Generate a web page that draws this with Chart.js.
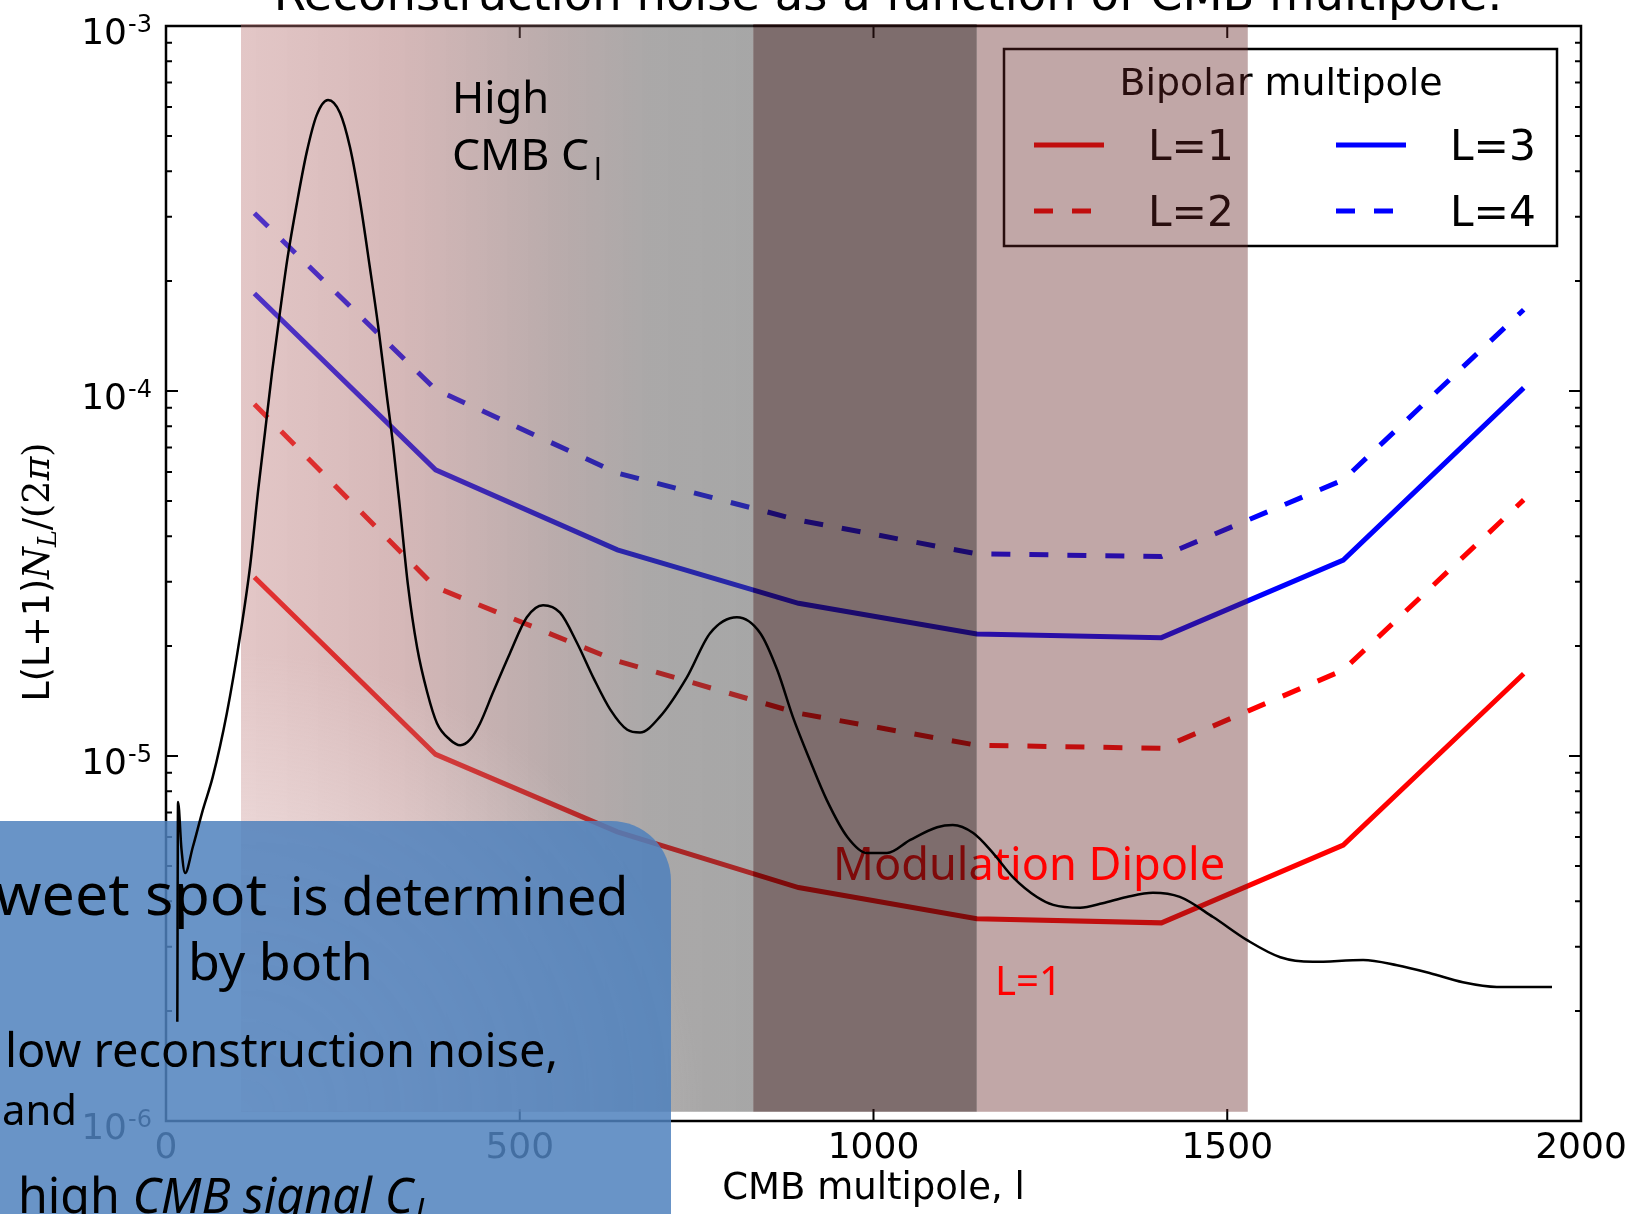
<!DOCTYPE html>
<html>
<head>
<meta charset="utf-8">
<script src="https://cdn.jsdelivr.net/npm/chart.js@4.4.1/dist/chart.umd.min.js"></script>
<style>
  html, body { margin: 0; padding: 0; background: #fff; overflow: hidden; }
  #wrap { position: relative; width: 1637px; height: 1214px; }
</style>
</head>
<body>
<div id="wrap"><canvas id="noiseChart" width="1637" height="1214"></canvas></div>
<script>
// multipoles where the reconstruction noise was evaluated
const multipoles = [125, 381, 638, 894, 1146, 1407, 1664, 1919]
const noiseL1 = [3.09e-5, 1.01e-5, 6.2e-6, 4.36e-6, 3.58e-6, 3.49e-6, 5.7e-6, 1.68e-5]
const noiseL2 = [9.2e-5, 2.9e-5, 1.82e-5, 1.31e-5, 1.07e-5, 1.05e-5, 1.72e-5, 5.03e-5]
const noiseL3 = [1.85e-4, 6.08e-5, 3.67e-5, 2.62e-5, 2.16e-5, 2.11e-5, 3.44e-5, 1.02e-4]
const noiseL4 = [3.07e-4, 1.01e-4, 5.96e-5, 4.43e-5, 3.58e-5, 3.52e-5, 5.71e-5, 1.67e-4]

// CMB power spectrum (black curve)
const cmbL = [16, 17, 22, 27, 38, 52, 66, 86, 105, 119, 130, 140, 150, 161, 172, 185, 199, 213, 229,
  246, 260, 274, 288, 300, 312, 321, 331, 342, 355, 369, 383, 401, 416, 430, 444, 462, 486,
  510, 533, 557, 581, 604, 628, 652, 670, 698, 736, 769, 807, 840, 864, 886, 910, 934, 963,
  991, 1019, 1052, 1090, 1112, 1141, 1169, 1197, 1231, 1254, 1292, 1324, 1358, 1395, 1433,
  1480, 1528, 1575, 1621, 1692, 1740, 1787, 1833, 1881, 1959]
const cmbCl = [1.87e-6, 7.48e-6, 5.52e-6, 4.78e-6, 5.64e-6, 7.11e-6, 8.75e-6, 1.31e-5, 2.15e-5,
  3.33e-5, 5.29e-5, 7.73e-5, 1.13e-4, 1.64e-4, 2.33e-4, 3.27e-4, 4.52e-4, 5.70e-4, 6.27e-4,
  5.78e-4, 4.66e-4, 3.33e-4, 2.19e-4, 1.50e-4, 9.75e-5, 7.11e-5, 4.72e-5, 2.94e-5, 1.98e-5,
  1.50e-5, 1.23e-5, 1.11e-5, 1.07e-5, 1.11e-5, 1.23e-5, 1.49e-5, 1.91e-5,
  2.40e-5, 2.59e-5, 2.47e-5, 2.04e-5, 1.64e-5, 1.34e-5, 1.18e-5, 1.16e-5, 1.28e-5, 1.64e-5,
  2.17e-5, 2.40e-5, 2.17e-5, 1.72e-5, 1.28e-5, 9.75e-6, 7.57e-6, 6.00e-6,
  5.42e-6, 5.42e-6, 5.89e-6, 6.38e-6, 6.47e-6, 6.15e-6, 5.42e-6, 4.66e-6, 4.11e-6, 3.91e-6,
  3.84e-6, 3.95e-6, 4.11e-6, 4.22e-6, 4.11e-6,
  3.62e-6, 3.13e-6, 2.81e-6, 2.73e-6, 2.76e-6, 2.67e-6, 2.54e-6, 2.40e-6, 2.33e-6, 2.33e-6]

const seriesNames = ['L=1', 'L=2', 'L=3', 'L=4']
const xTicks = [0, 500, 1000, 1500, 2000]
const yTicks = [1e-6, 1e-5, 1e-4, 1e-3]
const yTickBase = '10'
const yTickExps = ['-6', '-5', '-4', '-3']
// shaded multipole ranges: gradient | dark | light
const bandEdges = [106, 830, 1146, 1529]
const bandFloor = 1.06e-6

const sans = "'DejaVu Sans', sans-serif"
const serif = "'DejaVu Serif', serif"
const hand = "'Noto Sans', sans-serif"

function fitFont(ctx, text, style, family, width) {
  ctx.font = style + ' 100px ' + family
  const size = 100 * width / ctx.measureText(text).width
  return style + ' ' + size.toFixed(1) + 'px ' + family
}

function putText(ctx, text, x, y, width, style, family, color, align) {
  ctx.font = fitFont(ctx, text, style, family, width)
  ctx.fillStyle = color
  ctx.textAlign = align || 'left'
  ctx.textBaseline = 'alphabetic'
  ctx.fillText(text, x, y)
}

function line(ctx, x0, y0, x1, y1) {
  ctx.moveTo(x0, y0); ctx.lineTo(x1, y1)
}

function drawFrame(chart) {
  const { ctx, chartArea: a, scales: { x, y } } = chart
  ctx.save()
  ctx.strokeStyle = '#000'
  ctx.lineWidth = 2
  ctx.beginPath()
  xTicks.forEach(v => {
    const px = x.getPixelForValue(v)
    line(ctx, px, a.bottom, px, a.bottom - 12)
    line(ctx, px, a.top, px, a.top + 12)
  })
  for (let d = -6; d <= -3; d++) {
    for (let k = 1; k <= 9; k++) {
      if (d === -3 && k > 1) break
      const py = y.getPixelForValue(k * Math.pow(10, d))
      const len = k === 1 ? 12 : 6
      line(ctx, a.left, py, a.left + len, py)
      line(ctx, a.right, py, a.right - len, py)
    }
  }
  ctx.stroke()
  ctx.lineWidth = 2.5
  ctx.strokeRect(a.left, a.top, a.right - a.left, a.bottom - a.top)

  // y tick labels as 10 with a raised exponent
  ctx.fillStyle = '#000'
  ctx.textBaseline = 'alphabetic'
  y.ticks.forEach((t, i) => {
    const py = y.getPixelForValue(t.value)
    ctx.font = '36px ' + sans
    ctx.textAlign = 'right'
    ctx.fillText(yTickBase, a.left - 39, py + 18)
    ctx.font = '24px ' + sans
    ctx.textAlign = 'left'
    ctx.fillText(yTickExps[i], a.left - 38, py + 6)
  })

  // page title, cut at the top edge like the slide
  putText(ctx, 'Reconstruction noise as a function of CMB multipole.', 888, 10, 1230, 'normal', sans, '#000', 'center')

  // y axis title with math parts
  const runs = [
    { t: 'L(L+1)', f: sans, st: 'normal', s: 1, dy: 0 },
    { t: 'N', f: serif, st: 'italic', s: 1, dy: 0 },
    { t: 'L', f: serif, st: 'italic', s: 0.7, dy: 7 },
    { t: '/(2', f: serif, st: 'normal', s: 1, dy: 0 },
    { t: 'π', f: serif, st: 'italic', s: 1, dy: 0 },
    { t: ')', f: serif, st: 'normal', s: 1, dy: 0 }
  ]
  const base = 34
  let total = 0
  runs.forEach(r => { ctx.font = r.st + ' ' + (base * r.s) + 'px ' + r.f; r.w = ctx.measureText(r.t).width; total += r.w })
  const k = 259 / total
  ctx.translate(37, 572)
  ctx.rotate(-Math.PI / 2)
  ctx.textAlign = 'left'
  let cx = -total * k / 2
  runs.forEach(r => {
    ctx.font = r.st + ' ' + (base * r.s * k).toFixed(1) + 'px ' + r.f
    ctx.fillText(r.t, cx, 12 + r.dy)
    cx += r.w * k
  })
  ctx.restore()
}

function drawLegend(chart) {
  const { ctx, chartArea: a } = chart
  const left = a.right - 577, top = a.top + 23, w = 553, h = 197
  ctx.save()
  ctx.fillStyle = '#fff'
  ctx.fillRect(left, top, w, h)
  ctx.lineWidth = 2.5
  ctx.strokeStyle = '#000'
  ctx.strokeRect(left, top, w, h)
  putText(ctx, 'Bipolar multipole', left + 277, top + 46, 323, 'normal', sans, '#000', 'center')
  const spots = [[30, 96], [30, 162], [332, 96], [332, 162]]
  chart.data.datasets.slice(1).forEach((ds, i) => {
    const [ox, oy] = spots[i]
    ctx.beginPath()
    ctx.strokeStyle = ds.borderColor
    ctx.lineWidth = ds.borderWidth
    ctx.setLineDash(ds.borderDash || [])
    line(ctx, left + ox, top + oy, left + ox + 70, top + oy)
    ctx.stroke()
    ctx.setLineDash([])
    putText(ctx, seriesNames[i], left + ox + 114, top + oy + 15, 86, 'normal', sans, '#000')
  })
  ctx.restore()
}

function drawBands(chart) {
  const { ctx, chartArea: a, scales: { x, y } } = chart
  const top = a.top - 2
  const bottom = y.getPixelForValue(bandFloor)
  const [e0, e1, e2, e3] = bandEdges.map(v => x.getPixelForValue(v))
  ctx.save()
  const grad = ctx.createLinearGradient(e0, 0, e1, 0)
  grad.addColorStop(0, 'rgba(188,121,121,0.42)')
  grad.addColorStop(0.3, 'rgba(162,94,94,0.44)')
  grad.addColorStop(0.62, 'rgba(106,77,77,0.47)')
  grad.addColorStop(0.8, 'rgba(82,78,78,0.49)')
  grad.addColorStop(1, 'rgba(79,79,79,0.5)')
  ctx.fillStyle = grad
  ctx.fillRect(e0, top, e1 - e0, bottom - top)
  ctx.beginPath()
  ctx.rect(e0, top, e1 - e0, bottom - top)
  ctx.clip()
  const glow = ctx.createRadialGradient(e0, bottom, 0, e0, bottom, 460)
  glow.addColorStop(0, 'rgba(255,255,255,0.7)')
  glow.addColorStop(1, 'rgba(255,255,255,0)')
  ctx.fillStyle = glow
  ctx.fillRect(e0, top, e1 - e0, bottom - top)
  ctx.restore()

  ctx.save()
  ctx.fillStyle = 'rgba(101,35,35,0.4)'
  ctx.fillRect(e2, top, e3 - e2, bottom - top)
  // slide annotations in red
  putText(ctx, 'Modulation Dipole', 833, 880, 392, 'normal', hand, '#ff0000')
  putText(ctx, 'L=1', 995, 995, 67, 'normal', hand, '#ff0000')
  ctx.fillStyle = 'rgba(44,16,16,0.61)'
  ctx.fillRect(e1, top, e2 - e1, bottom - top)
  ctx.restore()
}

function drawBox(chart) {
  const { ctx } = chart
  ctx.save()
  const x0 = -40, y0 = 821, x1 = 671, y1 = 1260, r = 60
  ctx.beginPath()
  ctx.moveTo(x0, y0)
  ctx.lineTo(x1 - r, y0)
  ctx.arcTo(x1, y0, x1, y0 + r, r)
  ctx.lineTo(x1, y1)
  ctx.lineTo(x0, y1)
  ctx.closePath()
  ctx.fillStyle = 'rgba(79,129,189,0.85)'
  ctx.fill()
  ctx.restore()
}

function drawNotes(chart) {
  const { ctx } = chart
  ctx.save()
  putText(ctx, 'High', 452, 113, 97, 'normal', hand, '#000')
  putText(ctx, 'CMB C', 452, 170, 137, 'normal', hand, '#000')
  ctx.font = '30px ' + hand
  ctx.fillText('l', 594, 180)

  // text in the blue box
  const big = fitFont(ctx, 'weet spot', 'normal', hand, 272)
  ctx.font = big
  ctx.textAlign = 'right'
  ctx.fillStyle = '#000'
  ctx.fillText('Sweet spot', 267, 915)
  putText(ctx, 'is determined', 290, 915, 338, 'normal', hand, '#000')
  putText(ctx, 'by both', 188, 980, 185, 'normal', hand, '#000')
  putText(ctx, 'low reconstruction noise,', 5, 1067, 553, 'normal', hand, '#000')
  putText(ctx, 'and', 2, 1125, 75, 'normal', hand, '#000')

  ctx.font = 'normal 100px ' + hand
  const w1 = ctx.measureText('high ').width
  ctx.font = 'italic 100px ' + hand
  const w2 = ctx.measureText('CMB signal C').width
  const s = 100 * 395 / (w1 + w2)
  ctx.textAlign = 'left'
  ctx.font = 'normal ' + s.toFixed(1) + 'px ' + hand
  ctx.fillText('high ', 18, 1213)
  ctx.font = 'italic ' + s.toFixed(1) + 'px ' + hand
  ctx.fillText('CMB signal C', 18 + w1 * s / 100, 1213)
  ctx.font = 'italic ' + (s * 0.7).toFixed(1) + 'px ' + hand
  ctx.fillText('l', 18 + (w1 + w2) * s / 100 + 2, 1224)
  ctx.restore()
}

const slideLayers = {
  id: 'slideLayers',
  beforeDatasetsDraw(chart) { drawFrame(chart) },
  beforeDatasetDraw(chart, args) {
    if (args.index === 0) {
      drawLegend(chart)
      drawBands(chart)
      drawBox(chart)
    }
  },
  afterDatasetsDraw(chart) { drawNotes(chart) }
}

const ctx = document.getElementById('noiseChart').getContext('2d')
new Chart(ctx, {
  type: 'line',
  data: {
    datasets: [
      {
        label: 'CMB',
        data: cmbL.map((l, i) => ({ x: l, y: cmbCl[i] })),
        borderColor: '#000',
        borderWidth: 2.5,
        pointRadius: 0,
        cubicInterpolationMode: 'monotone',
        order: 0
      },
      { label: seriesNames[0], data: multipoles.map((l, i) => ({ x: l, y: noiseL1[i] })), borderColor: '#ff0000', borderWidth: 5, pointRadius: 0, order: 1 },
      { label: seriesNames[1], data: multipoles.map((l, i) => ({ x: l, y: noiseL2[i] })), borderColor: '#ff0000', borderWidth: 5, borderDash: [19, 19], pointRadius: 0, order: 1 },
      { label: seriesNames[2], data: multipoles.map((l, i) => ({ x: l, y: noiseL3[i] })), borderColor: '#0000ff', borderWidth: 5, pointRadius: 0, order: 1 },
      { label: seriesNames[3], data: multipoles.map((l, i) => ({ x: l, y: noiseL4[i] })), borderColor: '#0000ff', borderWidth: 5, borderDash: [19, 19], pointRadius: 0, order: 1 }
    ]
  },
  options: {
    responsive: false,
    animation: false,
    events: [],
    layout: { padding: { left: 0, right: 56, top: 26, bottom: 0 } },
    plugins: { legend: { display: false }, tooltip: { enabled: false } },
    scales: {
      x: {
        type: 'linear',
        min: 0,
        max: 2000,
        afterBuildTicks: s => { s.ticks = xTicks.map(v => ({ value: v })) },
        afterFit: s => { s.height = 93; s.paddingLeft = 0; s.paddingRight = 0 },
        ticks: { font: { family: 'DejaVu Sans', size: 36 }, color: '#000', padding: 6, maxRotation: 0, autoSkip: false, callback: v => String(v) },
        grid: { display: false, drawTicks: false },
        border: { display: false },
        title: { display: true, text: 'CMB multipole, l', color: '#000', font: { family: 'DejaVu Sans', size: 37 }, padding: { top: 0, bottom: 2 } }
      },
      y: {
        type: 'logarithmic',
        min: 1e-6,
        max: 1e-3,
        afterBuildTicks: s => { s.ticks = yTicks.map(v => ({ value: v, major: true })) },
        afterFit: s => { s.width = 166; s.paddingTop = 0; s.paddingBottom = 0 },
        ticks: { display: false },
        grid: { display: false, drawTicks: false },
        border: { display: false }
      }
    }
  },
  plugins: [slideLayers]
})
</script>
</body>
</html>
